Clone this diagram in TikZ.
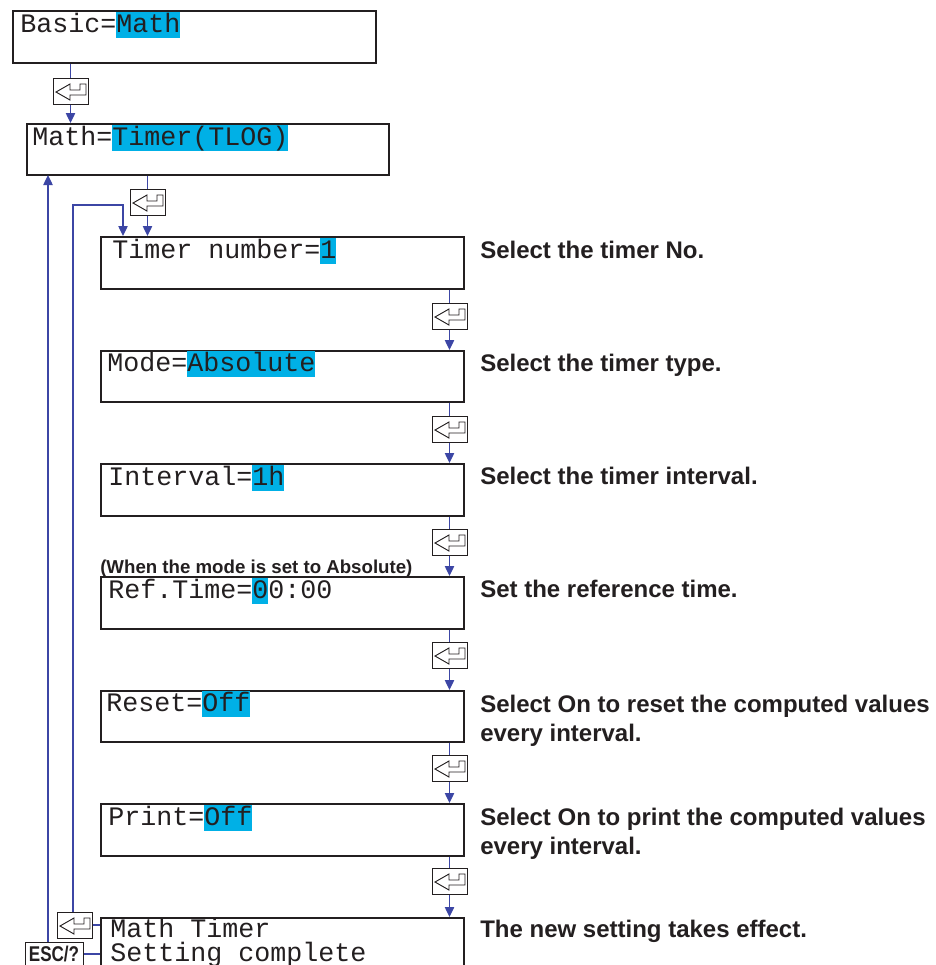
\documentclass[tikz,border=0pt]{standalone}
\usepackage{fontspec}
\setmainfont{Liberation Sans}
\newfontfamily\monof{Liberation Mono}
\usetikzlibrary{arrows.meta,calc}
\definecolor{hl}{RGB}{0,176,230}
\definecolor{ln}{RGB}{60,70,165}
\definecolor{ink}{RGB}{35,31,32}
\newcommand\hl[1]{{\setlength{\fboxsep}{0pt}\colorbox{hl}{\rule[-0.22em]{0pt}{0.97em}#1}}}
\tikzset{
  screen/.style={draw=ink, line width=1.2pt, rectangle, inner sep=0pt, anchor=north west},
  mono/.style={font=\monof\fontsize{20pt}{24pt}\selectfont, text=ink, inner sep=0pt, anchor=base west},
  note/.style={font=\bfseries\fontsize{18pt}{22pt}\selectfont, text=ink, inner sep=0pt, anchor=base west, align=left},
  small/.style={font=\bfseries\fontsize{14pt}{16pt}\selectfont, text=ink, inner sep=0pt, anchor=base west},
  conn/.style={draw=ln, line width=1pt},
  arr/.style={conn, -{Triangle[length=7.5pt,width=7pt]}},
  enterkey/.style={draw=ink, line width=0.75pt, fill=white, minimum width=26.25pt, minimum height=19.5pt, inner sep=0pt},
  keyglyph/.style={draw=ink, line width=0.7pt, line join=miter},
  esckey/.style={draw=ink, line width=0.75pt, fill=white, minimum width=43.5pt, minimum height=18pt, inner sep=0pt,
    font=\bfseries\fontsize{16pt}{18pt}\selectfont, text=ink},
}
\begin{document}
\begin{tikzpicture}[x=0.75pt,y=-0.75pt]
\clip (0,0) rectangle (936,965);
\fill[white] (0,0) rectangle (936,965);

% screens
\node[screen, minimum width=272.25pt, minimum height=39pt] (basic) at (12,10) {};
\node[mono] (tbasic) at (20,32) {Basic=\hl{Math}};

\node[screen, minimum width=271.5pt, minimum height=38.25pt] (math) at (26,123) {};
\node[mono] (tmath) at (32,145) {Math=\hl{Timer(TLOG)}};

\node[screen, minimum width=272.25pt, minimum height=39pt] (tn) at (100,236) {};
\node[mono] (ttn) at (112,258) {Timer number=\hl{1}};

\node[screen, minimum width=272.25pt, minimum height=38.25pt] (mode) at (100,350) {};
\node[mono] (tmode) at (107,371) {Mode=\hl{Absolute}};

\node[screen, minimum width=272.25pt, minimum height=39pt] (intv) at (100,463) {};
\node[mono] (tintv) at (108,485) {Interval=\hl{1h}};

\node[screen, minimum width=272.25pt, minimum height=39pt] (ref) at (100,576) {};
\node[mono] (tref) at (108,598) {Ref.Time=\hl{0}0:00};

\node[screen, minimum width=272.25pt, minimum height=38.25pt] (reset) at (100,690) {};
\node[mono] (treset) at (106,711) {Reset=\hl{Off}};

\node[screen, minimum width=272.25pt, minimum height=39pt] (print) at (100,803) {};
\node[mono] (tprint) at (108,825) {Print=\hl{Off}};

\node[screen, minimum width=272.25pt, minimum height=60pt] (done) at (100,917) {};
\node[mono] (tdone1) at (110,937) {Math Timer};
\node[mono] (tdone2) at (110,961) {Setting complete};

% notes
\node[note] (n1) at (480,258) {Select the timer No.};
\node[note] (n2) at (480,371) {Select the timer type.};
\node[note] (n3) at (480,484) {Select the timer interval.};
\node[note] (n4) at (480,597) {Set the reference time.};
\node[note] (n5a) at (480,712) {Select On to reset the computed values};
\node[note] (n5b) at (480,741) {every interval.};
\node[note] (n6a) at (480,825) {Select On to print the computed values};
\node[note] (n6b) at (480,854) {every interval.};
\node[note] (n7) at (480,937) {The new setting takes effect.};
\node[small] (abs) at (100,573) {(When the mode is set to Absolute)};

% enter keys
\node[enterkey] (k1) at (70.5,91) {};
\node[enterkey] (k2) at (147.5,202) {};
\node[enterkey] (k3) at (449.5,316) {};
\node[enterkey] (k4) at (449.5,429) {};
\node[enterkey] (k5) at (449.5,542) {};
\node[enterkey] (k6) at (449.5,655) {};
\node[enterkey] (k7) at (449.5,768) {};
\node[enterkey] (k8) at (449.5,881) {};
\node[enterkey] (k9) at (74.5,925) {};
\foreach \k in {k1,k2,k3,k4,k5,k6,k7,k8,k9}{
  \draw[keyglyph] ($(\k.center)+(-14.5,1)$) -- ++(14,-8) -- ++(0,6) -- ++(10,0) -- ++(0,-6) -- ++(6,0)
     -- ++(0,11) -- ++(-16,0) -- ++(0,5) -- cycle;
}
\node[esckey] (esc) at (54,954) {\scalebox{0.8}[1]{ESC/?}};

% connectors
\draw[conn] (basic.south -| k1) -- (k1.north);
\draw[arr] (k1.south) -- (k1.south |- math.north);
\draw[conn] (math.south -| k2) -- (k2.north);
\draw[arr] (k2.south) -- (k2.south |- tn.north);
\foreach \a/\k/\b in {tn/k3/mode, mode/k4/intv, intv/k5/ref, ref/k6/reset, reset/k7/print, print/k8/done}{
  \draw[conn] (\a.south -| \k) -- (\k.north);
  \draw[arr] (\k.south) -- (\k.south |- \b.north);
}
\coordinate (lp1) at (73,205);
\coordinate (lp2) at (123,205);
\draw[arr] (k9.north -| lp1) -- (lp1) -- (lp2) -- (lp2 |- tn.north);
\coordinate (up) at (48,175);
\draw[arr] (esc.north -| up) -- (up);
\draw[conn] (k9.east) -- (k9.east -| done.west);
\draw[conn] (esc.east) -- (esc.east -| done.west);
\end{tikzpicture}
\end{document}
